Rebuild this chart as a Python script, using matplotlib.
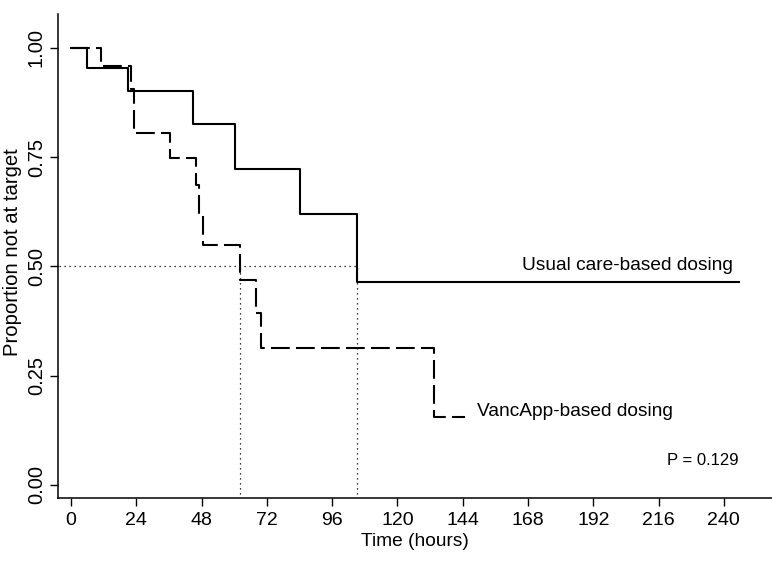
import matplotlib
matplotlib.use('Agg')
import matplotlib.pyplot as plt

plt.rcParams['font.family'] = ['Liberation Sans', 'DejaVu Sans']

# Kaplan-Meier steps (time in hours, proportion not at target)
usual_t = [0, 5.8, 20.9, 45.0, 60.3, 84.2, 105.1, 245.5]
usual_s = [1.0, 0.953, 0.900, 0.826, 0.723, 0.619, 0.464, 0.464]

vanc_t = [0, 10.9, 22.2, 23.0, 36.3, 46.1, 46.9, 48.5, 62.0, 67.9, 70.0, 133.3, 144.8]
vanc_s = [1.0, 0.957, 0.905, 0.806, 0.748, 0.686, 0.617, 0.549, 0.469, 0.393, 0.313, 0.156, 0.156]

median_usual = 105.1
median_vanc = 62.0

x_ticks = [0, 24, 48, 72, 96, 120, 144, 168, 192, 216, 240]
y_ticks = [0.0, 0.25, 0.50, 0.75, 1.00]
y_labels = ['0.00', '0.25', '0.50', '0.75', '1.00']

fig = plt.figure(figsize=(7.72, 5.61), dpi=100)
ax = fig.add_axes([0.0755, 0.1118, 0.9245, 0.864])

ax.step(usual_t, usual_s, where='post', color='black', lw=1.5)
ax.step(vanc_t, vanc_s, where='post', color='black', lw=1.5, linestyle=(0, (9, 3)))

# median lines
ax.plot([-10, median_usual], [0.5, 0.5], color='black', lw=0.9, linestyle=(0, (1, 3)))
ax.plot([median_vanc, median_vanc], [-0.1, 0.5], color='black', lw=0.9, linestyle=(0, (1, 3)))
ax.plot([median_usual, median_usual], [-0.1, 0.5], color='black', lw=0.9, linestyle=(0, (1, 3)))

ax.text(204.4, 0.503, 'Usual care-based dosing', ha='center', va='center', fontsize=13.8)
ax.text(185.3, 0.167, 'VancApp-based dosing', ha='center', va='center', fontsize=13.8)
ax.text(232.2, 0.057, 'P = 0.129', ha='center', va='center', fontsize=12)

ax.set_xlim(-4.67, 257.7)
ax.set_ylim(-0.0304, 1.078)

ax.set_xticks(x_ticks)
ax.set_xticklabels([str(t) for t in x_ticks], fontsize=14)
ax.set_yticks(y_ticks)
ax.set_yticklabels(y_labels, rotation=90, va='center', fontsize=14.5)

ax.spines['top'].set_visible(False)
ax.spines['right'].set_visible(False)
ax.spines['left'].set_linewidth(1.1)
ax.spines['bottom'].set_linewidth(1.1)
ax.tick_params(direction='out', length=6, width=1.0)
ax.tick_params(axis='x', pad=4)
ax.tick_params(axis='y', pad=3)

fig.text(415 / 772, 1 - 541.7 / 561, 'Time (hours)', ha='center', va='center', fontsize=13.8)
fig.text(12.5 / 772, 1 - 252 / 561, 'Proportion not at target', ha='center', va='center',
         rotation=90, fontsize=14.6)

fig.savefig('out.png', dpi=100)
